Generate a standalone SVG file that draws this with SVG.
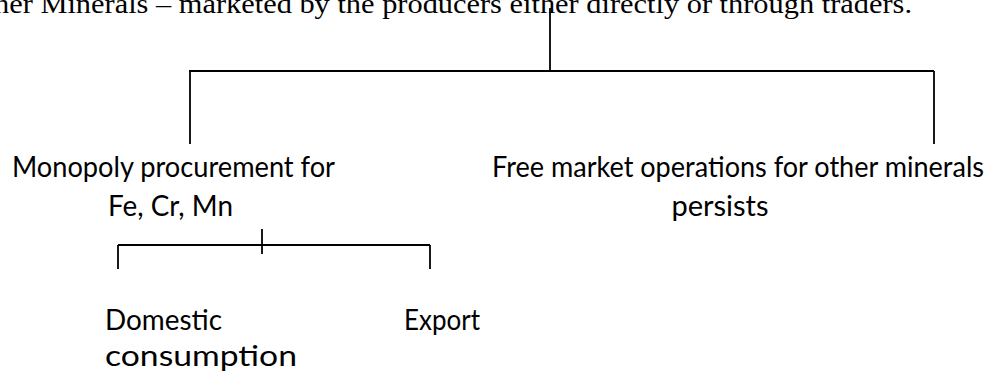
<svg xmlns="http://www.w3.org/2000/svg" width="997" height="374" viewBox="0 0 997 374">
<style>
.bg{fill:#ffffff}
.serif{font-family:"Liberation Serif","DejaVu Serif",serif;font-size:27px;fill:#000}
.sans{font-family:Lato,"Open Sans","Liberation Sans",sans-serif;font-size:29px;fill:#000}
.ln{stroke:#000;stroke-width:1.8;fill:none;stroke-linecap:butt}
</style>
<rect class="bg" x="0" y="0" width="997" height="374"/>
<g id="header">
<text class="serif" x="-6" y="13" textLength="918" lengthAdjust="spacingAndGlyphs">her Minerals – marketed by the producers either directly or through traders.</text>
</g>
<g id="connectors">
<path class="ln" d="M550,8 V71"/>
<path class="ln" d="M189,71 H934"/>
<path class="ln" d="M190,71 V144"/>
<path class="ln" d="M934,71 V144"/>
<path class="ln" d="M118,245 H430"/>
<path class="ln" d="M118,245 V269"/>
<path class="ln" d="M430,245 V269"/>
<path class="ln" d="M262,229 V254"/>
</g>
<g id="node-monopoly">
<text class="sans" x="12" y="177" textLength="323" lengthAdjust="spacingAndGlyphs">Monopoly procurement for</text>
<text class="sans" x="108" y="216" textLength="125" lengthAdjust="spacingAndGlyphs">Fe, Cr, Mn</text>
</g>
<g id="node-free-market">
<text class="sans" x="492" y="177" textLength="492" lengthAdjust="spacingAndGlyphs">Free market operations for other minerals</text>
<text class="sans" x="720" y="216" text-anchor="middle">persists</text>
</g>
<g id="node-domestic">
<text class="sans" x="105" y="330" textLength="117" lengthAdjust="spacingAndGlyphs">Domestic</text>
<text class="sans" x="105" y="366" textLength="192" lengthAdjust="spacingAndGlyphs">consumption</text>
</g>
<g id="node-export">
<text class="sans" x="404" y="330" textLength="76" lengthAdjust="spacingAndGlyphs">Export</text>
</g>
</svg>
